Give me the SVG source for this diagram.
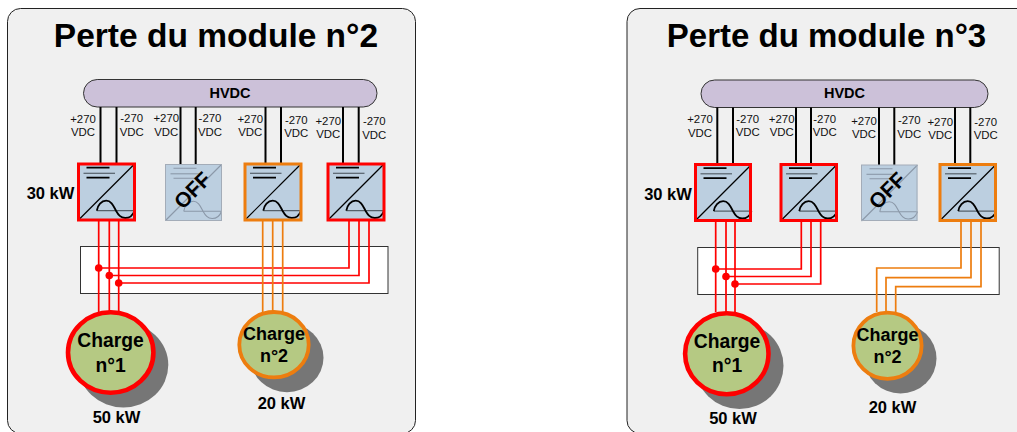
<svg xmlns="http://www.w3.org/2000/svg" width="1017" height="432" viewBox="0 0 1017 432">
<style>
text{font-family:"Liberation Sans",Arial,sans-serif;fill:#000;text-anchor:middle}
.panel{fill:#f0f0f0;stroke:#222;stroke-width:1}
.title{font-weight:bold}
.bus{fill:#ccc1d9;stroke:#333;stroke-width:1}
.busl{font-size:14.5px;font-weight:bold}
.v{font-size:11.4px;fill:#111}
.kw{font-size:16.5px;font-weight:bold}
.off{font-size:21px;font-weight:bold}
.ch1{font-size:19.3px;font-weight:bold}
.ch2{font-size:18px;font-weight:bold}
.box{fill:#fff;stroke:#333;stroke-width:1}
.dc{fill:none;stroke:#000;stroke-width:2}
.r{fill:none;stroke:#f00;stroke-width:1.7}
.o{fill:none;stroke:#ed7d0f;stroke-width:1.7}
.dot{fill:#f00}
.shadow{fill:#767676}
.load{fill:#b5c983}
.lr{stroke:#f00;stroke-width:4.6}
.lo{stroke:#ed7d0f;stroke-width:3.8}
.cr{stroke:#f00;stroke-width:3;fill:none}
.co{stroke:#ed7d0f;stroke-width:3;fill:none}
.cg{stroke:#a3acb8;stroke-width:1;fill:none}
</style>
<defs>
<g id="conv">
<rect width="56" height="56" fill="#bccfe0"/>
<path d="M0 56L56 0" stroke="#000" stroke-width="1.2" fill="none"/>
<path d="M8 3.7H31M8 13.7H31" stroke="#000" stroke-width="1.8" fill="none"/>
<path d="M5 9.3H36.5" stroke="#55606a" stroke-width="1.2" fill="none"/>
<path d="M18.3 46.7H56" stroke="#55606a" stroke-width="1.2" fill="none"/>
<path d="M18.3 46.7C19 41 23 36.7 27.7 36.7C33 36.7 35 42 37.5 46.7C40 51 42 54 46.7 54C51 54 54.5 51 56 46.7" stroke="#000" stroke-width="1.8" fill="none"/>
</g>
<g id="convoff">
<rect width="56" height="56" fill="#bccfe0"/>
<g fill="none" stroke="#8b98a8" stroke-width="1.1">
<path d="M0 56L56 0"/>
<path d="M8 3.7H31M8 13.7H31"/>
<path d="M5 9.3H36.5"/>
<path d="M18.3 46.7H56"/>
<path d="M18.3 46.7C19 41 23 36.7 27.7 36.7C33 36.7 35 42 37.5 46.7C40 51 42 54 46.7 54C51 54 54.5 51 56 46.7"/>
</g>
</g>
</defs>

<g id="panel-left">
<rect class="panel" x="7.5" y="8.5" width="408" height="425" rx="13"/>
<text class="title" font-size="33.5" x="216" y="46.5">Perte du module n°2</text>
</g>
<g id="panel-right">
<rect class="panel" x="627" y="8.5" width="408" height="425" rx="13"/>
<text class="title" font-size="33" x="826.5" y="46.5">Perte du module n°3</text>
</g>

<g id="bus-left">
<rect class="bus" x="83.5" y="79.5" width="293.5" height="27.5" rx="13.7"/>
<text class="busl" x="230" y="97.5">HVDC</text>
</g>
<g id="bus-right">
<rect class="bus" x="701" y="80" width="287" height="27.5" rx="13.7"/>
<text class="busl" x="844.5" y="98">HVDC</text>
</g>

<g id="box-left"><rect class="box" x="80.5" y="246.5" width="307.5" height="47"/></g>
<g id="box-right"><rect class="box" x="697.7" y="247.5" width="301.5" height="47"/></g>

<g id="connectors">
<path class="dc" d="M100.5 107V164M116.5 107V164M180.5 107V164M195.7 107V164M265.5 107V164M281 107V164M343 107V164M358.7 107V164"/>
<path class="dc" d="M717.3 107.5V164M733 107.5V164M796 107.5V164M811 107.5V164M879 107.5V165M894.3 107.5V165M955 107.5V164M970.3 107.5V164"/>
<path class="r" d="M98.7 220V312M109.3 220V312M118.7 220V312"/>
<path class="r" d="M98.7 268H349V220M109.3 275.5H359V220M118.7 283H369V220"/>
<circle class="dot" cx="98.7" cy="268" r="3.8"/><circle class="dot" cx="109.3" cy="275.5" r="3.8"/><circle class="dot" cx="118.7" cy="283" r="3.8"/>
<path class="o" d="M262.7 220V312M272.7 220V312M282.7 220V312"/>
<path class="r" d="M715.7 220V312M726 220V312M735 220V312"/>
<path class="r" d="M715.7 269H801.3V220M726 276.5H811V220M735 284H820.7V220"/>
<circle class="dot" cx="715.7" cy="269" r="3.8"/><circle class="dot" cx="726" cy="276.5" r="3.8"/><circle class="dot" cx="735" cy="284" r="3.8"/>
<path class="o" d="M961 220V268H876.7V312M971 220V277.7H886V312M981 220V286.7H895.7V312"/>
</g>

<g id="left-labels">
<text class="v" x="83" y="122.5">+270</text><text class="v" x="83" y="136">VDC</text>
<text class="v" x="131.7" y="122">-270</text><text class="v" x="131.7" y="136">VDC</text>
<text class="v" x="166.3" y="122">+270</text><text class="v" x="166.3" y="136">VDC</text>
<text class="v" x="210" y="122">-270</text><text class="v" x="210" y="136">VDC</text>
<text class="v" x="250.3" y="123.3">+270</text><text class="v" x="250.3" y="136">VDC</text>
<text class="v" x="296.3" y="124">-270</text><text class="v" x="296.3" y="137.3">VDC</text>
<text class="v" x="328.3" y="125">+270</text><text class="v" x="328.3" y="138">VDC</text>
<text class="v" x="374.3" y="125">-270</text><text class="v" x="374.3" y="138.5">VDC</text>
</g>
<g id="right-labels">
<text class="v" x="700" y="123">+270</text><text class="v" x="700" y="137">VDC</text>
<text class="v" x="747.7" y="122.5">-270</text><text class="v" x="747.7" y="136">VDC</text>
<text class="v" x="781.7" y="122.5">+270</text><text class="v" x="781.7" y="136">VDC</text>
<text class="v" x="824.7" y="123">-270</text><text class="v" x="824.7" y="136">VDC</text>
<text class="v" x="864" y="125">+270</text><text class="v" x="864" y="138">VDC</text>
<text class="v" x="909.3" y="124">-270</text><text class="v" x="909.3" y="138">VDC</text>
<text class="v" x="940.3" y="125.5">+270</text><text class="v" x="940.3" y="139">VDC</text>
<text class="v" x="985.7" y="126">-270</text><text class="v" x="985.7" y="139">VDC</text>
</g>

<g id="l-module1"><use href="#conv" x="78.5" y="164"/><rect class="cr" x="78.5" y="164" width="56" height="56"/><text class="kw" x="50.5" y="199">30 kW</text></g>
<g id="l-module2"><use href="#convoff" x="165.5" y="164.5"/><rect class="cg" x="165.5" y="164.5" width="56" height="56"/><text class="off" transform="translate(197.5 195.5) rotate(-45)">OFF</text></g>
<g id="l-module3"><use href="#conv" x="245" y="164"/><rect class="co" x="245" y="164" width="56" height="56"/></g>
<g id="l-module4"><use href="#conv" x="328" y="164"/><rect class="cr" x="328" y="164" width="56" height="56"/></g>

<g id="r-module1"><use href="#conv" x="695.5" y="164.5"/><rect class="cr" x="695.5" y="164.5" width="55" height="56"/><text class="kw" x="668" y="199.5">30 kW</text></g>
<g id="r-module2"><use href="#conv" x="781" y="164.5"/><rect class="cr" x="781" y="164.5" width="55.5" height="56"/></g>
<g id="r-module3"><use href="#convoff" x="861.5" y="165"/><rect class="cg" x="861.5" y="165" width="55.5" height="55.5"/><text class="off" transform="translate(892.3 195.7) rotate(-45)">OFF</text></g>
<g id="r-module4"><use href="#conv" x="940" y="164.5"/><rect class="co" x="940" y="164.5" width="55.5" height="56"/></g>

<g id="l-load1">
<ellipse class="shadow" cx="123.3" cy="365" rx="45" ry="42.5"/>
<ellipse class="load lr" cx="110.7" cy="352.5" rx="42.7" ry="40.2"/>
<text class="ch1" x="110.5" y="347">Charge</text><text class="ch1" x="110.5" y="371.5">n°1</text>
<text class="kw" x="116.5" y="423">50 kW</text>
</g>
<g id="l-load2">
<ellipse class="shadow" cx="287" cy="357.7" rx="36.5" ry="34.5"/>
<ellipse class="load lo" cx="274" cy="344.7" rx="34.7" ry="32.7"/>
<text class="ch2" x="274" y="340">Charge</text><text class="ch2" x="274" y="362">n°2</text>
<text class="kw" x="281.5" y="409">20 kW</text>
</g>
<g id="r-load1">
<ellipse class="shadow" cx="739.5" cy="366" rx="44" ry="43"/>
<ellipse class="load lr" cx="726.8" cy="353.8" rx="41.7" ry="40.5"/>
<text class="ch1" x="727" y="348">Charge</text><text class="ch1" x="727" y="372">n°1</text>
<text class="kw" x="733" y="424">50 kW</text>
</g>
<g id="r-load2">
<ellipse class="shadow" cx="900.5" cy="358.5" rx="36" ry="35"/>
<ellipse class="load lo" cx="887.5" cy="345.8" rx="34.1" ry="33.1"/>
<text class="ch2" x="887.5" y="341">Charge</text><text class="ch2" x="887.5" y="363">n°2</text>
<text class="kw" x="892.5" y="413">20 kW</text>
</g>
</svg>
